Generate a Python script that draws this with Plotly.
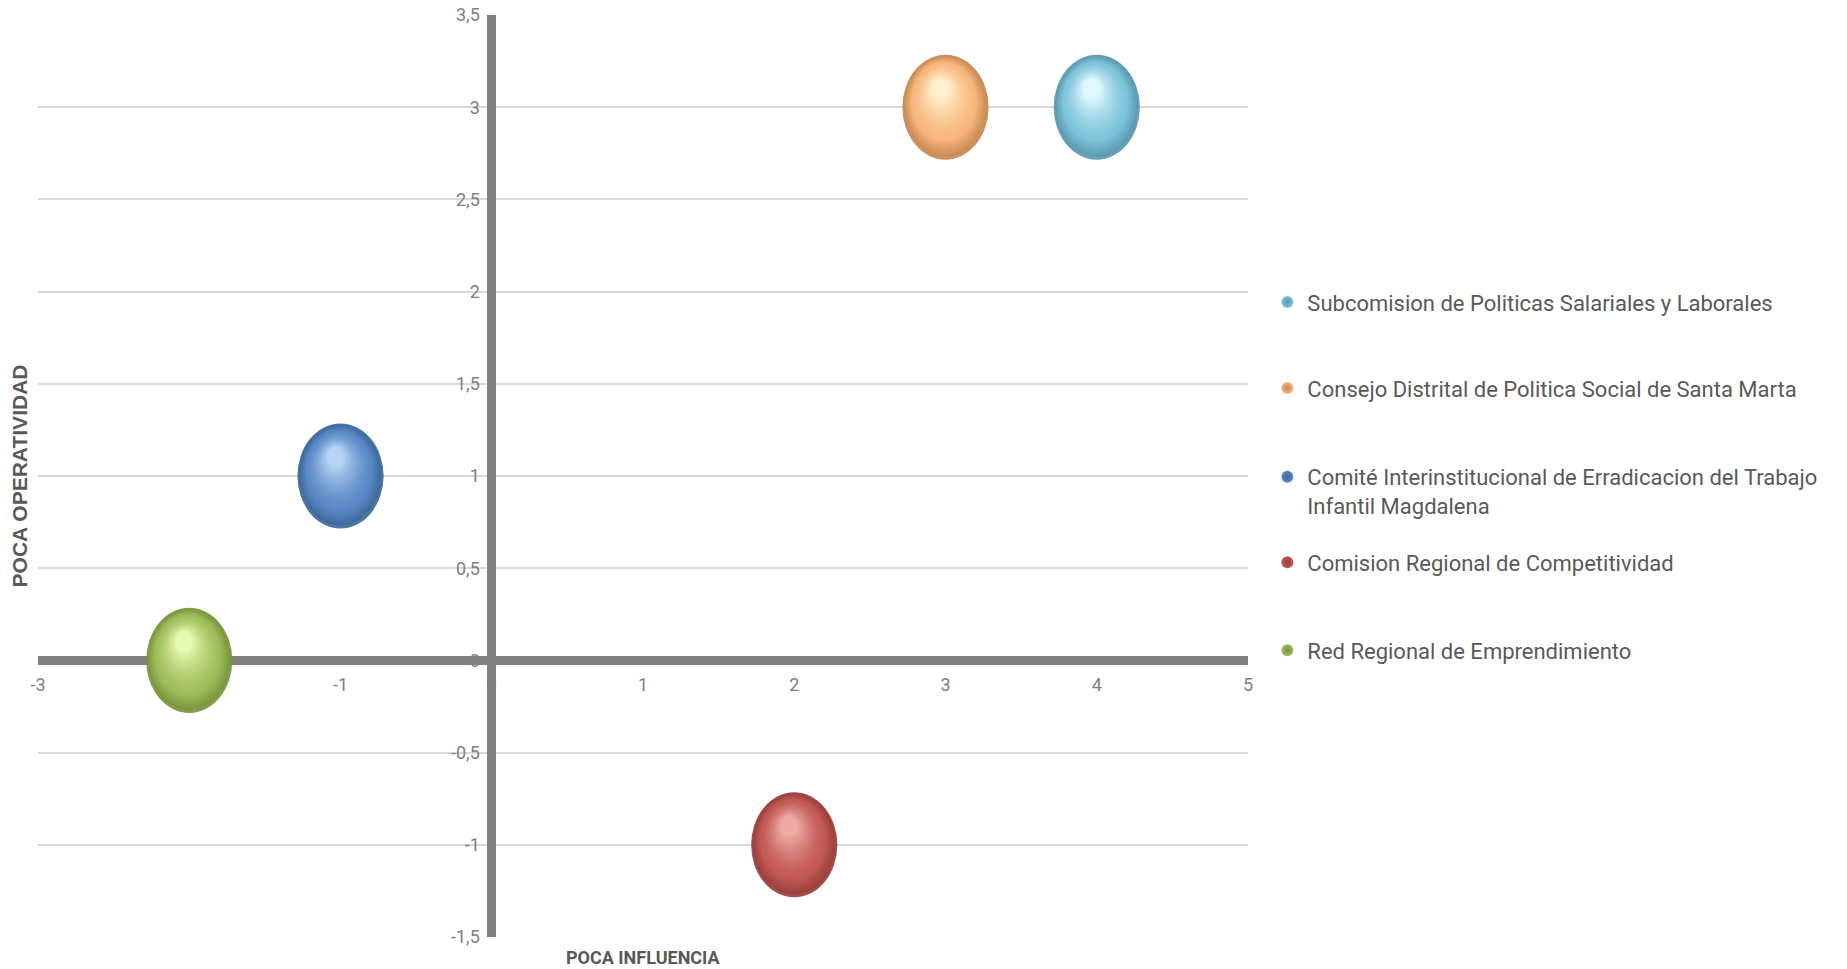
import plotly.graph_objects as go

# ---------------- data ----------------
series_names = [
    "Subcomision de Politicas Salariales y Laborales",
    "Consejo Distrital de Politica Social de Santa Marta",
    "Comité Interinstitucional de Erradicacion del Trabajo<br>Infantil Magdalena",
    "Comision Regional de Competitividad",
    "Red Regional de Emprendimiento",
]
influencia = [4, 3, -1, 2, -2]          # x values
operatividad = [3, 3, 1, -1, 0]         # y values
bubble_size = [1, 1, 1, 1, 1]           # equal bubble sizes

x_tick_vals = [-3, -2, -1, 0, 1, 2, 3, 4, 5]
x_tick_text = ["-3", "-2", "-1", "0", "1", "2", "3", "4", "5"]
y_tick_vals = [-1.5, -1, -0.5, 0, 0.5, 1, 1.5, 2, 2.5, 3, 3.5]
y_tick_text = ["-1,5", "-1", "-0,5", "0", "0,5", "1", "1,5", "2", "2,5", "3", "3,5"]

# ---------------- styles ----------------
# (edge, mid, highlight) colours per series
palette = [
    ("#5896ad", "#7ec4da", "#dff8ff"),
    ("#c48650", "#f7b67c", "#fff0cc"),
    ("#3a6797", "#5b8bc6", "#b4d2f3"),
    ("#963c39", "#c35a56", "#eeaaa3"),
    ("#76923b", "#a0be5c", "#e6f7b0"),
]
FONT_NARROW = "Roboto, sans-serif"
TXT = "#595959"
TICK = "#7f7f7f"

X_RANGE = [-3, 5]
Y_RANGE = [-1.5, 3.5]
RADIUS = 0.285
LEG_X = 1.016
LEG_Y = [0.6886, 0.5952, 0.4832, 0.4063, 0.3109]


def hex2rgb(h):
    h = h.lstrip("#")
    return [int(h[i:i + 2], 16) for i in (0, 2, 4)]


def mix(c1, c2, t):
    a, b = hex2rgb(c1), hex2rgb(c2)
    return "rgb(%d,%d,%d)" % tuple(round(a[i] + (b[i] - a[i]) * t) for i in range(3))


fig = go.Figure()
shapes = []
N = 22
for i, name in enumerate(series_names):
    edge, mid, hi = palette[i]
    xc, yc, s = influencia[i], operatividad[i], bubble_size[i]
    r = RADIUS * s
    for k in range(N):
        t = k / (N - 1)
        sc = 1 - 0.8 * t
        dx = -0.035 * t
        dy = 0.10 * t
        if t < 0.3:
            col = mix(edge, mid, t / 0.3)
        else:
            col = mix(mid, hi, ((t - 0.3) / 0.7) ** 1.4)
        shapes.append(dict(
            type="circle", xref="x", yref="y",
            x0=xc + dx - r * sc, x1=xc + dx + r * sc,
            y0=yc + dy - r * sc, y1=yc + dy + r * sc,
            fillcolor=col, line=dict(width=0), layer="above",
            opacity=0.9 if k == 0 else 1,
        ))
    leg = "legend" if i == 0 else "legend%d" % (i + 1)
    fig.add_trace(go.Scatter(
        x=[xc], y=[yc], mode="markers", name=name, legend=leg,
        marker=dict(size=8, color=mid, symbol="circle",
                    gradient=dict(type="radial", color=edge),
                    line=dict(width=0)),
        hoverinfo="skip",
    ))

layout_legends = {}
for i in range(len(series_names)):
    key = "legend" if i == 0 else "legend%d" % (i + 1)
    layout_legends[key] = dict(
        x=LEG_X, y=LEG_Y[i], xanchor="left", yanchor="middle",
        bgcolor="rgba(0,0,0,0)", borderwidth=0,
        font=dict(family=FONT_NARROW, size=22, color=TXT),
        itemsizing="constant", valign="top", itemclick=False,
    )

fig.update_layout(
    width=1847, height=969,
    margin=dict(l=38, r=599, t=15, b=32, autoexpand=False),
    paper_bgcolor="white", plot_bgcolor="white",
    separators=", ",
    showlegend=True,
    shapes=shapes,
    hovermode=False,
    **layout_legends,
    xaxis=dict(
        range=X_RANGE, domain=[0, 1], anchor="free", automargin=False,
        position=(0 - Y_RANGE[0]) / (Y_RANGE[1] - Y_RANGE[0]),
        tickvals=x_tick_vals, ticktext=x_tick_text,
        showgrid=False, showline=False, ticks="",
        zeroline=True, zerolinecolor="#808080", zerolinewidth=9,
        tickfont=dict(family=FONT_NARROW, size=18, color=TICK),
        ticklabelstandoff=12,
    ),
    yaxis=dict(
        range=Y_RANGE, domain=[0, 1], anchor="free", automargin=False,
        position=(0 - X_RANGE[0]) / (X_RANGE[1] - X_RANGE[0]),
        tickvals=y_tick_vals, ticktext=y_tick_text,
        showgrid=True, gridcolor="#d9d9d9", gridwidth=2,
        showline=False, ticks="",
        zeroline=True, zerolinecolor="#808080", zerolinewidth=9,
        tickfont=dict(family=FONT_NARROW, size=18, color=TICK),
        ticklabelstandoff=12,
    ),
    annotations=[
        dict(text="POCA INFLUENCIA", xref="paper", yref="paper",
             x=0.5, y=-0.0217, xanchor="center", yanchor="middle",
             showarrow=False,
             font=dict(family=FONT_NARROW, size=18, color=TXT, weight="bold")),
        dict(text="POCA OPERATIVIDAD", xref="paper", yref="paper",
             x=-0.015, y=0.5005, xanchor="center", yanchor="middle",
             textangle=-90, showarrow=False,
             font=dict(family="Liberation Sans, Arial, sans-serif", size=21,
                       color=TXT, weight="bold")),
    ],
)

fig.write_html("out.html", config={"displayModeBar": False},
               post_script="document.body.style.margin='0';")
